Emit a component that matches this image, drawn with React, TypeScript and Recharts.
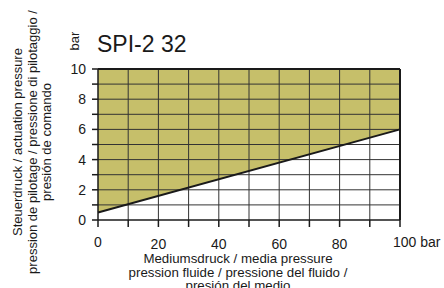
import {
  ComposedChart,
  Area,
  Line,
  XAxis,
  YAxis,
  ReferenceLine,
} from 'recharts'

// media pressure (bar) and the minimum actuation pressure (bar)
const mediaPressure = [0, 100]
const actuationPressure = [0.5, 6]
const maxActuation = 10

const xTicks = [0, 10, 20, 30, 40, 50, 60, 70, 80, 90, 100]
const yTicks = [0, 1, 2, 3, 4, 5, 6, 7, 8, 9, 10]
const xTickLabels: Record<number, string> = { 0: '0', 20: '20', 40: '40', 60: '60', 80: '80', 100: '100 bar' }
const yTickLabels: Record<number, string> = { 0: '0', 2: '2', 4: '4', 6: '6', 8: '8', 10: '10' }

const title = 'SPI-2 32'
const yUnit = 'bar'
const yTitle = ['Steuerdruck / actuation pressure', 'pression de pilotage / pressione di pilotaggio /', 'presión de comando']
const xTitle = ['Mediumsdruck / media pressure', 'pression fluide / pressione del fluido /', 'presión del medio']

const data = mediaPressure.map((p, i) => ({
  p,
  act: actuationPressure[i],
  band: [actuationPressure[i], maxActuation],
}))

const font = 'Arial, "Liberation Sans", sans-serif'
const ink = '#1a1a1a'

const XTick = (props: any) => {
  const { x, y, payload } = props
  const label = xTickLabels[payload.value]
  if (!label) return null
  const edge = payload.value === 0 || payload.value === 100
  return (
    <text
      x={payload.value === 100 ? x - 7 : x}
      y={y + (edge ? 18 : 20)}
      textAnchor={payload.value === 100 ? 'start' : 'middle'}
      fontSize={14}
      fill={ink}
      fontFamily={font}
    >
      {label}
    </text>
  )
}

const YTick = (props: any) => {
  const { y, payload } = props
  const label = yTickLabels[payload.value]
  if (!label) return null
  return (
    <text x={86} y={y + 5} textAnchor="end" fontSize={14} fill={ink} fontFamily={font}>
      {label}
    </text>
  )
}

export default function App() {
  return (
    <div style={{ position: 'absolute', left: 0, top: 0, width: 444, height: 288, background: '#fff', fontFamily: font, color: ink, overflow: 'hidden' }}>
      <ComposedChart
        width={444}
        height={288}
        data={data}
        margin={{ top: 69, right: 44, bottom: 38, left: 68 }}
      >
        <XAxis
          dataKey="p"
          type="number"
          domain={[0, 100]}
          ticks={xTicks}
          height={30}
          tickSize={7}
          tickMargin={2}
          tick={<XTick />}
          stroke={ink}
          strokeWidth={1.5}
          interval={0}
        />
        <YAxis
          type="number"
          domain={[0, 10]}
          ticks={yTicks}
          width={30}
          tickSize={6}
          tick={<YTick />}
          stroke={ink}
          strokeWidth={1.5}
          interval={0}
        />
        <Area
          dataKey="band"
          type="linear"
          fill="#c6bf6a"
          fillOpacity={1}
          stroke="none"
          isAnimationActive={false}
        />
        {xTicks.slice(1, -1).map((t) => (
          <ReferenceLine key={'x' + t} x={t} stroke="#333" strokeWidth={1} />
        ))}
        {yTicks.slice(1, -1).map((t) => (
          <ReferenceLine key={'y' + t} y={t} stroke="#333" strokeWidth={1} />
        ))}
        <ReferenceLine x={100} stroke={ink} strokeWidth={2} />
        <ReferenceLine y={10} stroke={ink} strokeWidth={2} />
        <Line
          dataKey="act"
          type="linear"
          stroke={ink}
          strokeWidth={2}
          dot={false}
          isAnimationActive={false}
        />
      </ComposedChart>

      <div style={{ position: 'absolute', left: 97, top: 30, fontSize: 23, lineHeight: '28px', whiteSpace: 'nowrap' }}>
        {title}
      </div>
      <div
        style={{
          position: 'absolute', left: 74, top: 41, fontSize: 13, whiteSpace: 'nowrap',
          transform: 'translate(-50%, -50%) rotate(-90deg)',
        }}
      >
        {yUnit}
      </div>
      <div
        style={{
          position: 'absolute', left: 33, top: 142, fontSize: 13, lineHeight: '14.5px',
          textAlign: 'center', whiteSpace: 'nowrap',
          transform: 'translate(-50%, -50%) rotate(-90deg)',
        }}
      >
        {yTitle.map((l) => (
          <div key={l}>{l}</div>
        ))}
      </div>
      <div
        style={{
          position: 'absolute', left: 238, top: 252, fontSize: 13.3, lineHeight: '13.5px',
          textAlign: 'center', whiteSpace: 'nowrap', transform: 'translateX(-50%)',
        }}
      >
        {xTitle.map((l) => (
          <div key={l}>{l}</div>
        ))}
      </div>
    </div>
  )
}
